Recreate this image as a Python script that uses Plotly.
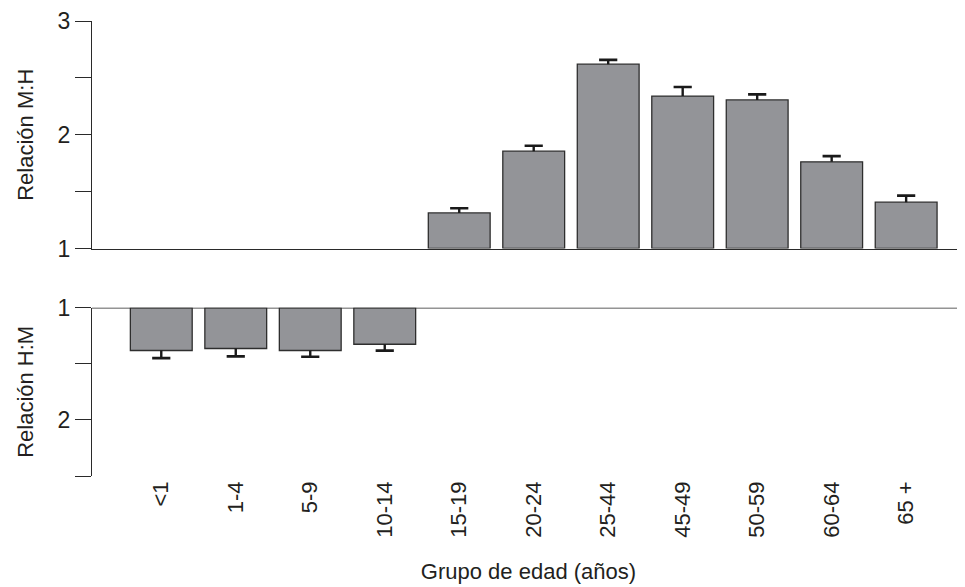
import plotly.graph_objects as go

categories = ["<1", "1-4", "5-9", "10-14", "15-19", "20-24", "25-44", "45-49", "50-59", "60-64", "65 +"]

# Top panel: female:male ratio (M:H)
top_cats = ["15-19", "20-24", "25-44", "45-49", "50-59", "60-64", "65 +"]
top_vals = [1.313, 1.856, 2.62, 2.34, 2.306, 1.762, 1.407]
top_err = [0.041, 0.047, 0.038, 0.08, 0.049, 0.05, 0.058]

# Bottom panel: male:female ratio (H:M)
bot_cats = ["<1", "1-4", "5-9", "10-14"]
bot_vals = [1.382, 1.364, 1.382, 1.326]
bot_err = [0.068, 0.07, 0.055, 0.057]

BASE = 1
bar_color = "#939498"
edge_color = "#2e2e2e"
ink = "#231f20"
err_color = "#1a1a1a"
axis_color = "#2a2a2a"
font_family = "Liberation Sans, Arial, Helvetica, sans-serif"

fig = go.Figure()


def add_panel(cats, vals, errs, xa, ya):
    fig.add_trace(go.Bar(
        x=cats, y=[v - BASE for v in vals], base=BASE,
        marker=dict(color=bar_color, line=dict(color=edge_color, width=1.3)),
        xaxis=xa, yaxis=ya, showlegend=False, hoverinfo="skip"))
    # one-sided error bar: cap marker at the tip, stem without caps back to the bar end
    tips = [v + e for v, e in zip(vals, errs)]
    fig.add_trace(go.Scatter(
        x=cats, y=tips, mode="markers",
        marker=dict(symbol="line-ew", size=13, line=dict(color=err_color, width=2.6)),
        error_y=dict(type="data", symmetric=False, array=[0] * len(errs), arrayminus=errs,
                     color=err_color, thickness=2.4, width=0),
        xaxis=xa, yaxis=ya, showlegend=False, hoverinfo="skip"))


add_panel(top_cats, top_vals, top_err, "x", "y")
add_panel(bot_cats, bot_vals, bot_err, "x2", "y2")

xrange = [-0.93, 10.79]
common_x = dict(type="category", categoryorder="array", categoryarray=categories,
                range=xrange, showgrid=False, zeroline=False, ticks="", automargin=False)
common_y = dict(ticks="outside", ticklen=16, tickwidth=1.3, tickcolor=axis_color,
                showline=True, linecolor=axis_color, linewidth=1.3, showgrid=False,
                zeroline=False, tickfont=dict(size=23, color=ink), automargin=False)

# the page body keeps an 8px margin, so the figure is sized to end at the window edge
fig.update_layout(
    width=957, height=579,
    margin=dict(l=84, r=0, t=13, b=111),
    paper_bgcolor="white", plot_bgcolor="white",
    font=dict(family=font_family, size=22, color=ink),
    bargap=0.17,
    xaxis=dict(**common_x, anchor="y", domain=[0, 1], showline=True, linecolor=axis_color,
               linewidth=1.3, showticklabels=False, matches="x2"),
    xaxis2=dict(**common_x, anchor="y2", domain=[0, 1], showline=False,
                showticklabels=True, tickangle=-90, tickfont=dict(size=22, color=ink),
                title=dict(text="Grupo de edad (años)", font=dict(size=22, color=ink), standoff=26)),
    yaxis=dict(**common_y, domain=[0.5, 1], range=[1, 3], tickvals=[1, 1.5, 2, 2.5, 3],
               ticktext=["1", "", "2", "", "3"],
               title=dict(text="Relación M:H", font=dict(size=22, color=ink), standoff=17)),
    yaxis2=dict(**common_y, domain=[0, 0.37], range=[2.5, 1], tickvals=[1, 1.5, 2, 2.5],
                ticktext=["1", "", "2", ""],
                title=dict(text="Relación H:M", font=dict(size=22, color=ink), standoff=17)),
    shapes=[dict(type="line", xref="x2 domain", x0=0, x1=1, yref="y2", y0=BASE, y1=BASE,
                 line=dict(color=axis_color, width=1.6))],
)

fig.write_html("out.html")
